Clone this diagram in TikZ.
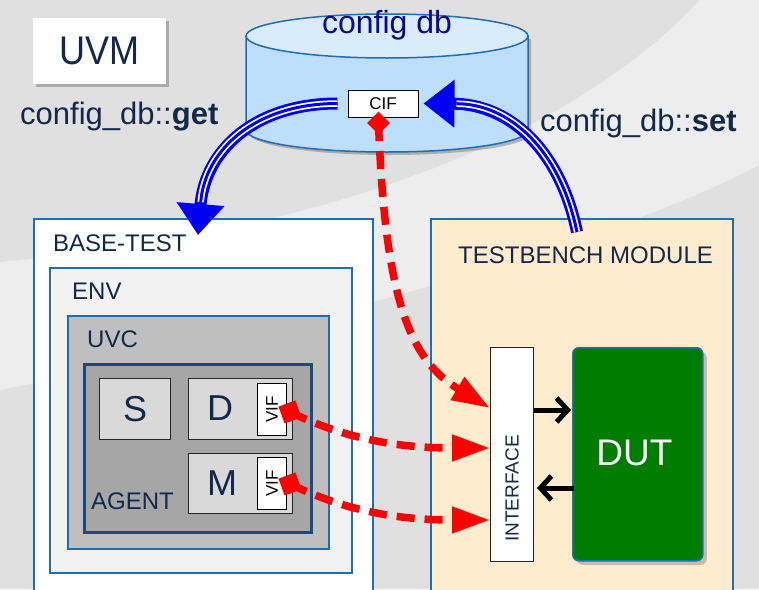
\documentclass[tikz,border=0pt]{standalone}
\usepackage{fontspec}
\setmainfont{Liberation Sans}
\usetikzlibrary{arrows.meta,shadows,calc}
\definecolor{navy}{HTML}{13294B}
\definecolor{dbnavy}{HTML}{0C0C80}
\definecolor{boxblue}{HTML}{1F6DB5}
\definecolor{agentblue}{HTML}{1A4A85}
\definecolor{bgA}{HTML}{E0E0E0}
\definecolor{bgB}{HTML}{EDEDED}
\definecolor{cylfill}{HTML}{BDDFFB}
\definecolor{cyltop}{HTML}{D8ECFD}
\definecolor{envfill}{HTML}{F2F2F2}
\definecolor{uvcfill}{HTML}{BFBFBF}
\definecolor{agentfill}{HTML}{A6A6A6}
\definecolor{compfill}{HTML}{D9D9D9}
\definecolor{tbfill}{HTML}{FFEBCD}
\definecolor{dutgreen}{HTML}{007D00}
\definecolor{arrowblue}{HTML}{0000F0}
\definecolor{arrowred}{HTML}{FF0000}
\begin{document}
\begin{tikzpicture}[x=1pt,y=-1pt,
  lbl/.style={text=navy, inner sep=0pt, font=\fontsize{24pt}{28pt}\selectfont},
  bigl/.style={text=navy, inner sep=0pt, font=\fontsize{31pt}{36pt}\selectfont},
  cbox/.style={draw=boxblue, line width=2pt, anchor=north west, inner sep=0pt},
  comp/.style={draw=black!85, line width=1.2pt, fill=compfill, anchor=north west, inner sep=0pt},
  vifbox/.style={draw=black, line width=1pt, fill=white, anchor=north west, inner sep=0pt,
     minimum width=29pt, minimum height=52pt},
  viftext/.style={rotate=90, inner sep=0pt, font=\fontsize{17pt}{20pt}\selectfont},
  letter/.style={text=navy, inner sep=0pt, font=\fontsize{36pt}{40pt}\selectfont},
  redsq/.style={fill=arrowred, minimum size=18pt, inner sep=0pt, rotate=20},
  reddash/.style={draw=arrowred, line width=7.5pt, dash pattern=on 18pt off 10pt,
     -{Triangle[length=38pt,width=25pt]}},
  tripleA/.style={draw=arrowblue, line width=12pt, -{Triangle[length=31pt,width=46pt]}},
  tripleB/.style={draw=white, line width=6.5pt, shorten >=33pt},
  tripleC/.style={draw=arrowblue, line width=3pt, shorten >=33pt},
  blk/.style={draw=black, line width=5pt, -{Straight Barb[length=11pt,width=24pt,line width=5pt]}},
  shad/.style={drop shadow={shadow xshift=3pt, shadow yshift=-3pt, opacity=0.35, fill=black!70}}
]
\clip (0,0) rectangle (759,589);
% background
\fill[bgA] (0,0) rectangle (759,589);
\fill[bgB] (700,0) .. controls (560,150) and (300,235) .. (0,262)
   -- (0,390) .. controls (300,330) and (620,240) .. (759,165) -- (759,0) -- cycle;

% UVM box
\node[fill=white, shad, minimum width=133pt, minimum height=66pt, inner sep=0pt,
  text=navy, font=\fontsize{40pt}{44pt}\selectfont] (uvm) at (99.5,51) {\scalebox{0.9}[1]{UVM}};

% cylinder (config db)
\path[fill=cylfill, draw=boxblue, line width=1.5pt, shad]
  (246,36) -- (246,130) arc[start angle=180, end angle=360, x radius=141pt, y radius=22pt]
  -- (528,36) -- cycle;
\path[fill=cyltop, draw=boxblue, line width=1.5pt] (387,36) ellipse[x radius=141pt, y radius=22pt];
\node[text=dbnavy, inner sep=0pt, font=\fontsize{32pt}{36pt}\selectfont, anchor=base] (db) at (387,33) {config db};
\node[draw=black, line width=1pt, fill=white, minimum width=70pt, minimum height=27pt, inner sep=0pt,
  font=\fontsize{17pt}{20pt}\selectfont] (cif) at (383,103.5) {CIF};

% labels get / set
\node[bigl, anchor=base west] (getl) at (20,124) {config\_db::\textbf{get}};
\node[bigl, anchor=base west] (setl) at (540,131) {config\_db::\textbf{set}};

% left hierarchy
\node[cbox, fill=white, minimum width=339pt, minimum height=390pt] (base) at (33,218) {};
\node[lbl, anchor=base west] (basel) at (53,251) {BASE-TEST};
\node[cbox, fill=envfill, minimum width=302pt, minimum height=305pt] (env) at (49,267) {};
\node[lbl, anchor=base west] (envl) at (72,299) {ENV};
\node[cbox, fill=uvcfill, minimum width=261pt, minimum height=233pt] (uvc) at (67,315) {};
\node[lbl, anchor=base west] (uvcl) at (87,347) {UVC};
\node[cbox, draw=agentblue, line width=2.5pt, fill=agentfill, minimum width=227pt, minimum height=168pt] (agent) at (83,363) {};
\node[lbl, anchor=base west] (agentl) at (91,509) {AGENT};

\node[comp, minimum width=71pt, minimum height=61pt] (sbox) at (99,378) {};
\node[letter] (sl) at (sbox.center) {S};
\node[comp, minimum width=104pt, minimum height=61pt] (dbox) at (188,378) {};
\node[letter] (dl) at (220,408.5) {D};
\node[vifbox] (vifd) at (257,383) {};
\node[viftext] (vifdl) at (vifd.center) {VIF};
\node[comp, minimum width=104pt, minimum height=60pt] (mbox) at (188,453) {};
\node[letter] (ml) at (222,483) {M};
\node[vifbox] (vifm) at (257,457) {};
\node[viftext] (vifml) at (vifm.center) {VIF};

% testbench module
\node[cbox, fill=tbfill, minimum width=302pt, minimum height=390pt] (tb) at (430,218) {};
\node[lbl, anchor=base west] (tbl) at (458,263) {TESTBENCH MODULE};
\node[draw=black!85, line width=1pt, fill=white, anchor=north west, inner sep=0pt,
  minimum width=43pt, minimum height=214pt] (iface) at (490,347) {};
\node[rotate=90, text=navy, inner sep=0pt, font=\fontsize{19pt}{22pt}\selectfont] (ifacel)
  at ($(iface.center)+(0,34)$) {INTERFACE};
\node[draw=boxblue, line width=1.5pt, fill=dutgreen, rounded corners=6pt, anchor=north west,
  inner sep=0pt, minimum width=130pt, minimum height=213pt,
  drop shadow={shadow xshift=4pt, shadow yshift=-4pt, opacity=0.3, fill=black!70}] (dut) at (572,347) {};
\node[text=white, inner sep=0pt, font=\fontsize{37pt}{40pt}\selectfont] (dutl) at (634.5,453) {DUT};

% blue triple arrows
\coordinate (getTip) at (198,235);
\coordinate (setStart) at (577,232);
\foreach \s in {tripleA,tripleB,tripleC}{
  \draw[\s] ([xshift=-10pt]cif.west) .. controls (255,103.5) and (205,150) .. (getTip);
  \draw[\s] (setStart) .. controls (560,150) and (510,104) .. ([xshift=5pt]cif.east);
}

% black arrows
\draw[blk] (iface.east |- 0,410) -- ([xshift=-1pt]dut.west |- 0,410);
\draw[blk] ([xshift=2pt]dut.west |- 0,488) -- ([xshift=3pt]iface.east |- 0,488);

% red dashed arrows
\coordinate (cifd) at (378.5,123);
\coordinate (vifdc) at (290,412);
\coordinate (vifmc) at (290,484);
\draw[reddash] (cifd) .. controls (385,300) and (410,360) .. (iface.west |- 0,408);
\draw[reddash] (vifdc) .. controls (340,436) and (390,448) .. (iface.west |- 0,448);
\draw[reddash] (vifmc) .. controls (340,508) and (390,520) .. (iface.west |- 0,520);
\node[fill=arrowred, minimum size=16pt, inner sep=0pt, rotate=45] (cifdia) at (cifd) {};
\node[redsq] (sqd) at (vifdc) {};
\node[redsq] (sqm) at (vifmc) {};
\end{tikzpicture}
\end{document}
